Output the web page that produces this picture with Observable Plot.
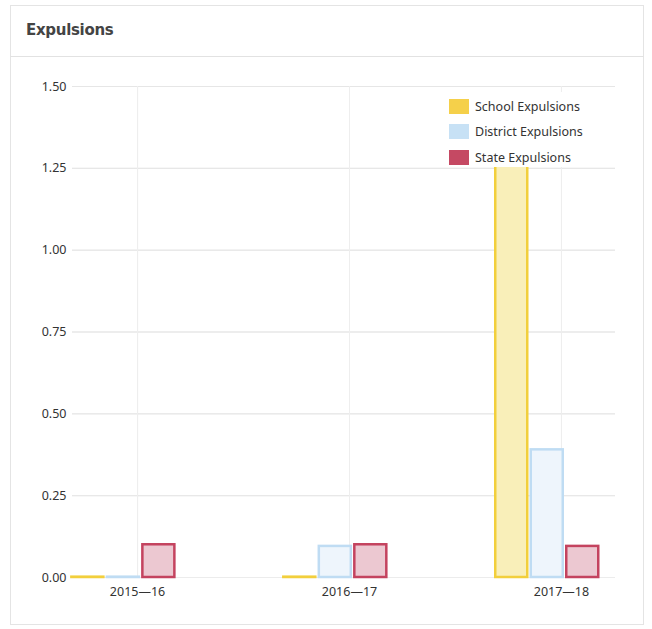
<!DOCTYPE html>
<html>
<head>
<meta charset="utf-8">
<script src="https://cdn.jsdelivr.net/npm/d3@7"></script>
<script src="https://cdn.jsdelivr.net/npm/@observablehq/plot@0.6"></script>
<style>
  body { margin: 0; background: #fff; }
  #wrap { position: relative; width: 652px; height: 629px; overflow: hidden; font-family: "Noto Sans", "DejaVu Sans", sans-serif; }
  #panel { position: absolute; left: 10px; top: 5px; width: 634px; height: 620px; border: 1px solid #e4e4e4; box-sizing: border-box; }
  #hdr { position: absolute; left: 10px; top: 56px; width: 634px; height: 1px; background: #e2e2e2; }
  #title { position: absolute; left: 26px; top: 21px; font: bold 15px "DejaVu Sans", sans-serif; color: #444; letter-spacing: -0.3px; }
  #chart { position: absolute; left: 0; top: 57px; }
  #legend { position: absolute; left: 441px; top: 92px; width: 160px; height: 75px; background: #fff; }
  .item { position: absolute; left: 8px; height: 16px; display: flex; align-items: center; font-size: 12.5px; color: #333; white-space: nowrap; }
  .sw { width: 20px; height: 15px; margin-right: 6px; }
</style>
</head>
<body>
<div id="wrap">
  <div id="panel"></div>
  <div id="hdr"></div>
  <div id="title">Expulsions</div>
  <div id="chart"></div>
  <div id="legend"></div>
</div>
<script>
const years = ["2015—16", "2016—17", "2017—18"];
const series = ["School Expulsions", "District Expulsions", "State Expulsions"];
const schoolValues = [0.001, 0.001, 1.40];
const districtValues = [0.001, 0.095, 0.39];
const stateValues = [0.10, 0.10, 0.095];
const yTicks = [0, 0.25, 0.5, 0.75, 1.0, 1.25, 1.5];

const fills = ["#f9efb9", "#eef5fc", "#ecc8d1"];
const strokes = ["#f2cf3c", "#bfdcf3", "#c4435f"];
const swatches = ["#f5d04a", "#c7e1f5", "#c54963"];

// bar placement within each year slot (in x-scale units)
const barStart = [-0.31, -0.1425, 0.025];
const barWidth = 0.151;

const valuesBySeries = [schoolValues, districtValues, stateValues];
const rows = [];
years.forEach((y, i) => {
  series.forEach((s, k) => {
    rows.push({i, k, series: s, value: valuesBySeries[k][i]});
  });
});

const chart = Plot.plot({
  width: 652,
  height: 572,
  marginTop: 29,
  marginBottom: 52,
  marginLeft: 72,
  marginRight: 37,
  style: {fontFamily: "'Noto Sans', 'DejaVu Sans', sans-serif", fontSize: "12.5px", color: "#333", background: "transparent"},
  x: {type: "linear", domain: [-0.307, 2.255], ticks: [0, 1, 2], tickFormat: i => years[i], tickSize: 0, tickPadding: 10, label: null, grid: true},
  y: {domain: [0, 1.5], ticks: yTicks, tickFormat: d => d.toFixed(2), tickSize: 0, tickPadding: 6, label: null, grid: true},
  marks: [
    Plot.gridY(yTicks, {stroke: "#e6e6e6", strokeOpacity: 1}),
    Plot.gridX([0, 1, 2], {stroke: "#eeeeee", strokeOpacity: 1}),
    Plot.ruleY([0], {stroke: "#ececec"}),
    Plot.rectY(rows, {
      x1: d => d.i + barStart[d.k],
      x2: d => d.i + barStart[d.k] + barWidth,
      y1: 0,
      y2: "value",
      fill: d => fills[d.k],
      stroke: d => strokes[d.k],
      strokeWidth: 2.5
    })
  ]
});
document.getElementById("chart").appendChild(chart);

const legend = document.getElementById("legend");
series.forEach((s, k) => {
  const it = document.createElement("div");
  it.className = "item";
  it.style.top = (6 + k * 25.5) + "px";
  const sw = document.createElement("span");
  sw.className = "sw";
  sw.style.background = swatches[k];
  const tx = document.createElement("span");
  tx.textContent = s;
  it.appendChild(sw);
  it.appendChild(tx);
  legend.appendChild(it);
});
</script>
</body>
</html>
